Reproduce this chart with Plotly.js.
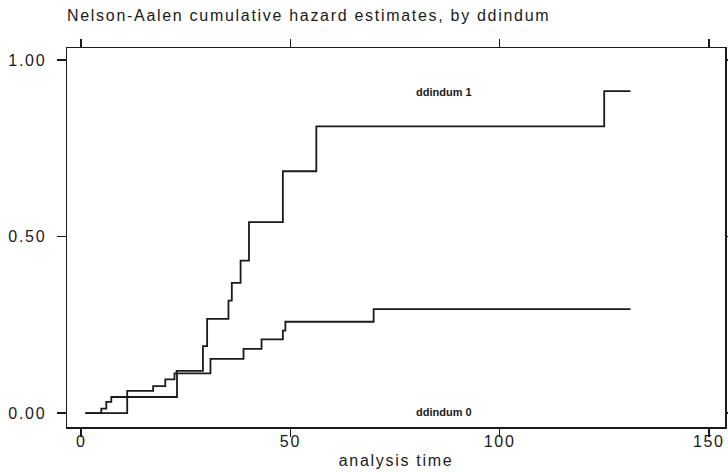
<!DOCTYPE html>
<html>
<head>
<meta charset="utf-8">
<script src="https://cdn.plot.ly/plotly-3.0.1.min.js"></script>
<style>
  html, body { margin: 0; padding: 0; background: #fff; }
  #chart { width: 728px; height: 472px; }
  .gtitle, .xtitle, .xtick text, .ytick text { letter-spacing: 1.7px; }
</style>
</head>
<body>
<div id="chart"></div>
<script>
// analysis time and Nelson-Aalen cumulative hazard, ddindum = 0
var time0 = [1, 4.8, 6.0, 7.2, 22.9, 30.9, 38.8, 43.1, 48.2, 48.8, 69.9, 131.3];
var hazard0 = [0, 0.013, 0.032, 0.046, 0.113, 0.154, 0.182, 0.209, 0.234, 0.259, 0.295, 0.295];

// ddindum = 1
var time1 = [1, 11.0, 17.2, 20.1, 22.3, 22.8, 29.1, 30.1, 35.2, 36.0, 38.1, 40.1, 48.2, 56.2, 125.0, 131.3];
var hazard1 = [0, 0.063, 0.077, 0.096, 0.113, 0.120, 0.190, 0.267, 0.319, 0.369, 0.432, 0.541, 0.685, 0.812, 0.912, 0.912];

var groupLabels = ["ddindum 0", "ddindum 1"];
var xTickVals = [0, 50, 100, 150];
var yTickVals = [0, 0.5, 1];
var yTickText = ["0.00", "0.50", "1.00"];

var FONT = '"Liberation Sans", Arial, sans-serif';
var INK = '#1a1a1a';

var traces = [
  { x: time0, y: hazard0, name: groupLabels[0], type: 'scatter', mode: 'lines',
    line: { shape: 'hv', color: INK, width: 1.8 }, hoverinfo: 'skip' },
  { x: time1, y: hazard1, name: groupLabels[1], type: 'scatter', mode: 'lines',
    line: { shape: 'hv', color: INK, width: 1.8 }, hoverinfo: 'skip' }
];

var layout = {
  width: 728, height: 472,
  paper_bgcolor: '#fff', plot_bgcolor: '#fff',
  showlegend: false,
  margin: { l: 67, r: 3, t: 48, b: 45, pad: 0 },
  font: { family: FONT, size: 16, color: INK },
  title: {
    text: 'Nelson-Aalen cumulative hazard estimates, by ddindum',
    xref: 'paper', x: 0, xanchor: 'left',
    yref: 'container', y: 1 - 15 / 472, yanchor: 'middle',
    font: { family: FONT, size: 16, color: INK }
  },
  xaxis: {
    range: [-3.39, 153.87],
    tickvals: xTickVals, ticktext: xTickVals.map(String),
    ticks: 'outside', ticklen: 8, tickwidth: 1.5, tickcolor: INK,
    showline: true, linecolor: INK, linewidth: 1.5, mirror: 'allticks',
    showgrid: false, zeroline: false,
    tickfont: { family: FONT, size: 16, color: INK },
    ticklabelstandoff: -9,
    title: { text: 'analysis time', standoff: 6, font: { family: FONT, size: 16, color: INK } }
  },
  yaxis: {
    range: [-0.039, 1.034],
    tickvals: yTickVals, ticktext: yTickText,
    ticks: 'outside', ticklen: 9, tickwidth: 1.5, tickcolor: INK,
    showline: true, linecolor: INK, linewidth: 1.5, mirror: 'allticks',
    showgrid: false, zeroline: false,
    tickfont: { family: FONT, size: 16, color: INK },
    ticklabelstandoff: 7
  },
  annotations: [
    { x: 86.8, y: 0.91, xref: 'x', yref: 'y', text: groupLabels[1], showarrow: false,
      font: { family: FONT, size: 11, color: INK, weight: 'bold' } },
    { x: 86.8, y: 0.003, xref: 'x', yref: 'y', text: groupLabels[0], showarrow: false,
      font: { family: FONT, size: 11, color: INK, weight: 'bold' } }
  ]
};

Plotly.newPlot('chart', traces, layout, { staticPlot: true, displayModeBar: false });
</script>
</body>
</html>
